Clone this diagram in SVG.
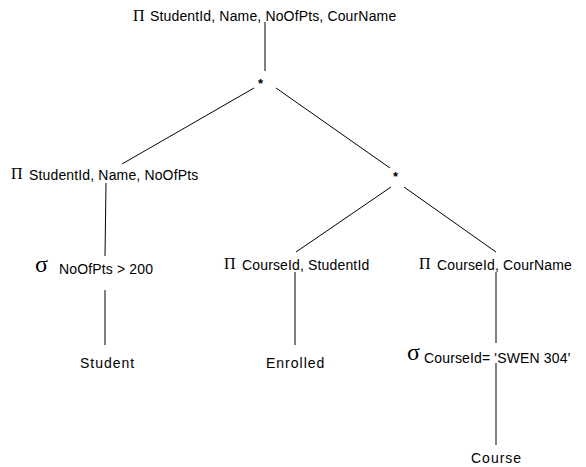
<svg xmlns="http://www.w3.org/2000/svg" width="586" height="467" viewBox="0 0 586 467">
<style>
.t{font-family:"Liberation Sans",Arial,sans-serif;font-size:14px;letter-spacing:0.15px;fill:#000}
.g{font-family:"Liberation Serif","Times New Roman",serif;font-size:16px;fill:#000}
.sg{font-family:"Liberation Serif","Times New Roman",serif;font-size:24px;fill:#000}
.r{font-family:"Liberation Sans",Arial,sans-serif;font-size:14px;letter-spacing:1px;fill:#000}
.st{font-family:"Liberation Sans",Arial,sans-serif;font-size:13px;font-weight:bold;fill:#000}
.c line{stroke:#000;stroke-width:1}
</style>
<rect width="586" height="467" fill="#fff"/>
<g class="c" id="connectors">
<line x1="265" y1="22" x2="265" y2="71"/>
<line x1="254" y1="88" x2="122" y2="164"/>
<line x1="276" y1="88" x2="390" y2="168"/>
<line x1="106" y1="183" x2="105" y2="256"/>
<line x1="105" y1="290" x2="105" y2="345"/>
<line x1="391" y1="187" x2="296" y2="252"/>
<line x1="404" y1="187" x2="496" y2="252"/>
<line x1="295" y1="272" x2="295" y2="345"/>
<line x1="496" y1="272" x2="496" y2="343"/>
<line x1="496" y1="363" x2="496" y2="445"/>
</g>
<g id="n1"><text class="g" x="133" y="21">Π</text><text class="t" x="150" y="21">StudentId, Name, NoOfPts, CourName</text></g>
<g id="n2"><text class="st" x="258" y="88">*</text></g>
<g id="n3"><text class="g" x="11" y="179">Π</text><text class="t" x="29" y="180">StudentId, Name, NoOfPts</text></g>
<g id="n4"><text class="st" x="393" y="181">*</text></g>
<g id="n5"><text class="sg" x="35" y="272">σ</text><text class="t" x="59" y="274">NoOfPts &gt; 200</text></g>
<g id="n6"><text class="g" x="224" y="269">Π</text><text class="t" x="242" y="270">CourseId, StudentId</text></g>
<g id="n7"><text class="g" x="419" y="269">Π</text><text class="t" x="437" y="270">CourseId, CourName</text></g>
<g id="n8"><text class="r" x="80" y="368">Student</text></g>
<g id="n9"><text class="r" x="266" y="368">Enrolled</text></g>
<g id="n10"><text class="sg" x="407" y="360">σ</text><text class="t" x="424" y="363">CourseId= 'SWEN 304'</text></g>
<g id="n11"><text class="r" x="471" y="463">Course</text></g>
</svg>
